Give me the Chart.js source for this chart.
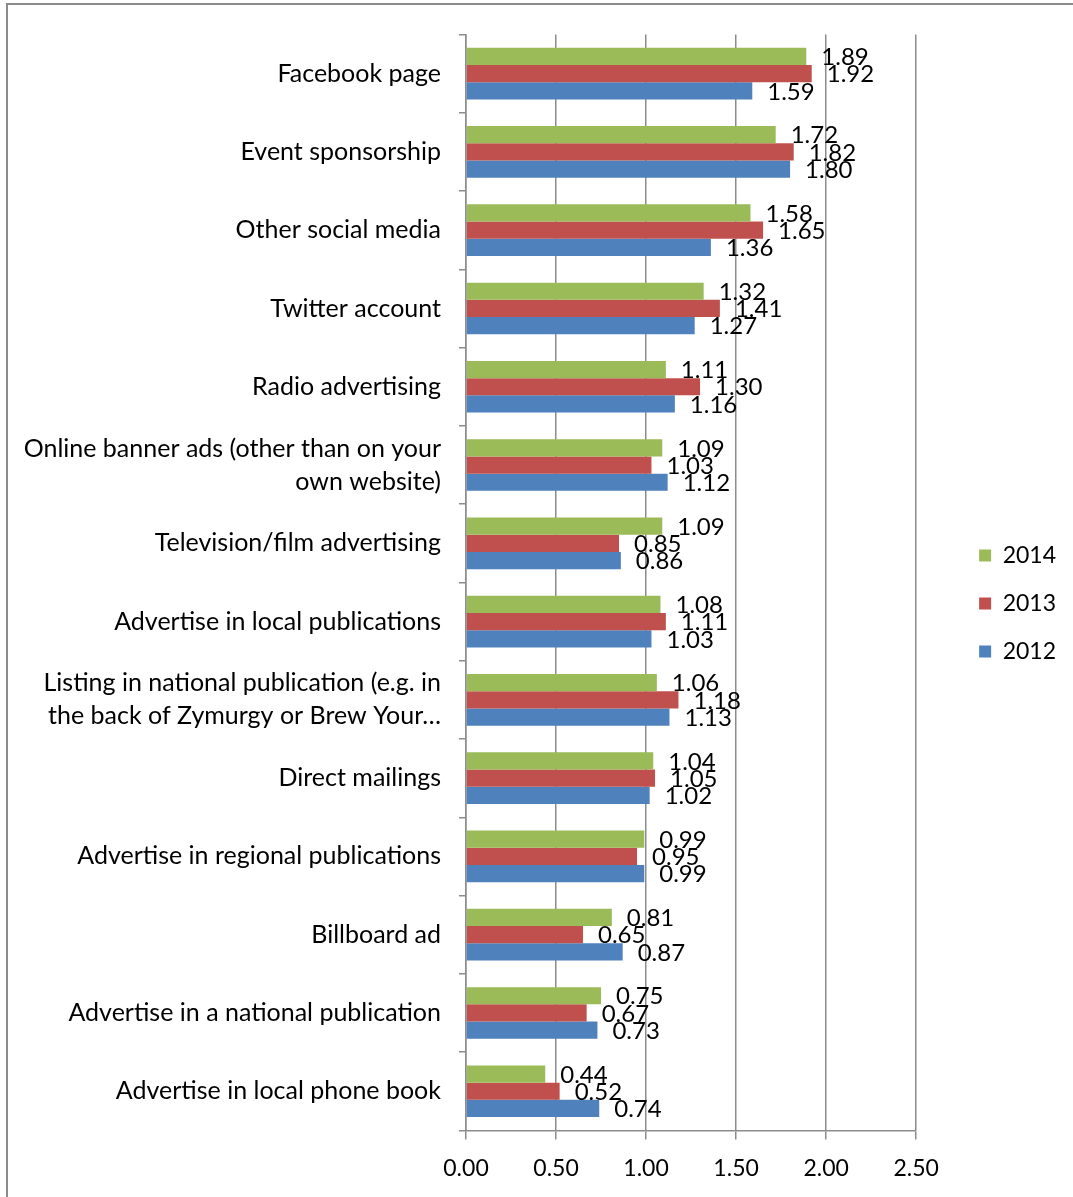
<!DOCTYPE html>
<html>
<head>
<meta charset="utf-8">
<script src="https://cdn.jsdelivr.net/npm/chart.js@4.4.1/dist/chart.umd.min.js"></script>
<style>
  html, body { margin: 0; padding: 0; background: #fff; overflow: hidden; }
  #frame { position: absolute; left: 6px; top: 3px; width: 1200px; height: 1300px; border: 2px solid #8c8c8c; }
  #wrap { position: absolute; left: 0; top: 0; width: 1073px; height: 1197px; }
</style>
</head>
<body>
<div id="frame"></div>
<div id="wrap"><canvas id="chartMarketing"></canvas></div>
<script>
const categories = [
  'Facebook page',
  'Event sponsorship',
  'Other social media',
  'Twitter account',
  'Radio advertising',
  ['Online banner ads (other than on your', 'own website)'],
  'Television/film advertising',
  'Advertise in local publications',
  ['Listing in national publication (e.g. in', 'the back of Zymurgy or Brew Your\u2026'],
  'Direct mailings',
  'Advertise in regional publications',
  'Billboard ad',
  'Advertise in a national publication',
  'Advertise in local phone book'
];
const values2014 = [1.89, 1.72, 1.58, 1.32, 1.11, 1.09, 1.09, 1.08, 1.06, 1.04, 0.99, 0.81, 0.75, 0.44];
const values2013 = [1.92, 1.82, 1.65, 1.41, 1.30, 1.03, 0.85, 1.11, 1.18, 1.05, 0.95, 0.65, 0.67, 0.52];
const values2012 = [1.59, 1.80, 1.36, 1.27, 1.16, 1.12, 0.86, 1.03, 1.13, 1.02, 0.99, 0.87, 0.73, 0.74];
const xTicks = [0, 0.5, 1, 1.5, 2, 2.5];

const fontName = 'Lato, "Open Sans", sans-serif';
const gris = '#8c8c8c';

// writes each bar's value just past its end
const etiquetas = {
  id: 'etiquetas',
  afterDatasetsDraw(chart) {
    const ctx = chart.ctx;
    ctx.save();
    ctx.font = '24px ' + fontName;
    ctx.fillStyle = '#000';
    ctx.textAlign = 'left';
    ctx.textBaseline = 'middle';
    chart.data.datasets.forEach((ds, i) => {
      chart.getDatasetMeta(i).data.forEach((bar, j) => {
        ctx.fillText(ds.data[j].toFixed(2), bar.x + 15, bar.y + 1);
      });
    });
    ctx.restore();
  }
};

// legend sits a bit away from the plot, slightly above centre
const moverLeyenda = {
  id: 'moverLeyenda',
  afterLayout(chart) {
    const lg = chart.legend;
    lg.left += 38; lg.right += 38;
    lg.top -= 11; lg.bottom -= 11;
  }
};

const data = {
  labels: categories,
  datasets: [
    { label: '2014', data: values2014, backgroundColor: '#9bbb59' },
    { label: '2013', data: values2013, backgroundColor: '#c0504d' },
    { label: '2012', data: values2012, backgroundColor: '#4f81bd' }
  ]
};

var chartEl = document.getElementById('chartMarketing');
var chartMarketing = new Chart(chartEl, {
  type: 'bar',
  data: data,
  plugins: [etiquetas, moverLeyenda],
  options: {
    indexAxis: 'y',
    responsive: true,
    maintainAspectRatio: false,
    animation: false,
    categoryPercentage: 0.66,
    barPercentage: 1.0,
    layout: { padding: { left: 8, top: 32, right: 45, bottom: 0 } },
    scales: {
      x: {
        min: 0,
        max: 2.5,
        afterBuildTicks: (scale) => { scale.ticks = xTicks.map(v => ({ value: v })); },
        ticks: {
          color: '#000',
          font: { family: fontName, size: 23 },
          padding: 15,
          callback: (v) => Number(v).toFixed(2)
        },
        grid: { color: gris, lineWidth: 1.5, tickLength: 9 },
        border: { color: gris, width: 1.5 }
      },
      y: {
        afterFit: (scale) => { scale.width = 458; },
        ticks: {
          color: '#000',
          font: { family: fontName, size: 25, lineHeight: 1.32 },
          padding: 18,
          autoSkip: false
        },
        grid: { offset: true, drawOnChartArea: false, color: gris, lineWidth: 1.5, tickLength: 7 },
        border: { color: gris, width: 1.5 }
      }
    },
    plugins: {
      legend: {
        position: 'right',
        labels: {
          color: '#000',
          font: { family: fontName, size: 23 },
          boxWidth: 12,
          boxHeight: 12,
          padding: 25
        }
      },
      tooltip: { enabled: false }
    }
  }
});
</script>
</body>
</html>
